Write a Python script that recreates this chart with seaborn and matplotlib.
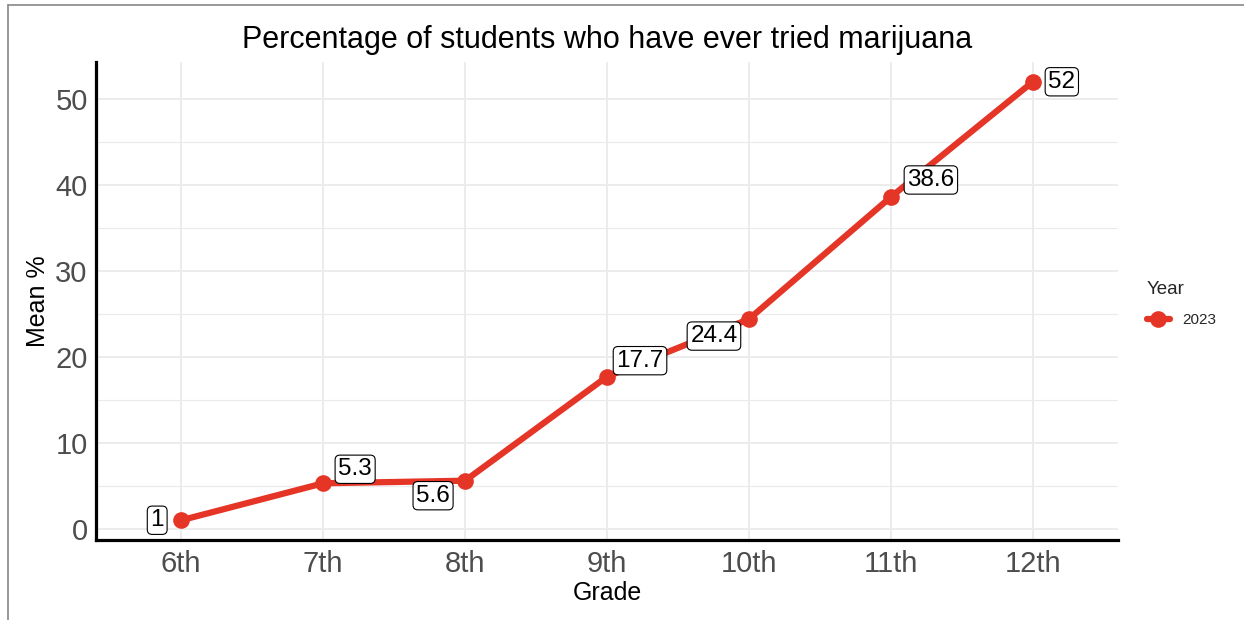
import matplotlib
matplotlib.use("Agg")
import matplotlib.pyplot as plt
from matplotlib.lines import Line2D
from matplotlib.ticker import MultipleLocator
import pandas as pd
import seaborn as sns

# data
grades = ["6th", "7th", "8th", "9th", "10th", "11th", "12th"]
mean_pct = [1.0, 5.3, 5.6, 17.7, 24.4, 38.6, 52.0]
year = ["2023"] * len(grades)

# label offsets (pixels) to mimic repelled labels
label_offsets = [(-24, 0), (32, 14), (-32, -15), (33, 16), (-35, -17), (40, 17), (29, 0)]

RED = "#E53527"

df = pd.DataFrame({"Grade": grades, "Mean": mean_pct, "Year": year})

sns.set_theme(style="whitegrid")
plt.rcParams["font.family"] = ["Liberation Sans", "DejaVu Sans"]

fig = plt.figure(figsize=(12.44, 6.2), dpi=100)
ax = fig.add_axes([0.0772, 0.129, 0.8215, 0.771])

sns.lineplot(data=df, x="Grade", y="Mean", hue="Year", palette=[RED],
             marker="o", markersize=12, markeredgewidth=0, linewidth=4.5,
             sort=False, ax=ax)

for i, (g, v) in enumerate(zip(grades, mean_pct)):
    txt = f"{v:g}"
    ax.annotate(txt, (i, v), xytext=label_offsets[i], textcoords="offset pixels",
                ha="center", va="center", fontsize=17.5, color="black",
                bbox=dict(boxstyle="round,pad=0.13,rounding_size=0.2",
                          fc="white", ec="black", lw=0.8))

ax.set_xlim(-0.6, len(grades) - 0.4)
ax.set_ylim(-1.3, 54.3)
ax.yaxis.set_major_locator(MultipleLocator(10))
ax.yaxis.set_minor_locator(MultipleLocator(5))
ax.grid(which="major", color="#EBEBEB", linewidth=1.3)
ax.grid(which="minor", axis="y", color="#EBEBEB", linewidth=0.8)

for side in ["top", "right"]:
    ax.spines[side].set_visible(False)
for side in ["left", "bottom"]:
    ax.spines[side].set_color("black")
    ax.spines[side].set_linewidth(2.3)

ax.tick_params(axis="x", which="both", length=0, labelsize=21,
               labelcolor="#4D4D4D", pad=7)
ax.tick_params(axis="y", which="both", length=0, labelsize=21,
               labelcolor="#4D4D4D", pad=6)
ax.set_xlabel("Grade", fontsize=18, color="black", labelpad=2)
ax.set_ylabel("Mean %", fontsize=18, color="black", labelpad=4)
ax.set_title("Percentage of students who have ever tried marijuana",
             fontsize=22, color="black", pad=10)

ax.legend(title="Year", loc="center left", bbox_to_anchor=(0.917, 0.51),
          bbox_transform=fig.transFigure, frameon=False, fontsize=11,
          title_fontsize=13.5, handlelength=1.5, alignment="left",
          labelspacing=1.0, borderaxespad=0.0)

# screenshot frame on left and top
fig.add_artist(Line2D([0.0065, 0.0065], [0, 0.992], color="#888888", lw=1.2,
                      transform=fig.transFigure))
fig.add_artist(Line2D([0.0065, 1.0], [0.992, 0.992], color="#888888", lw=1.2,
                      transform=fig.transFigure))

fig.savefig("out.png", dpi=100, facecolor="white")
